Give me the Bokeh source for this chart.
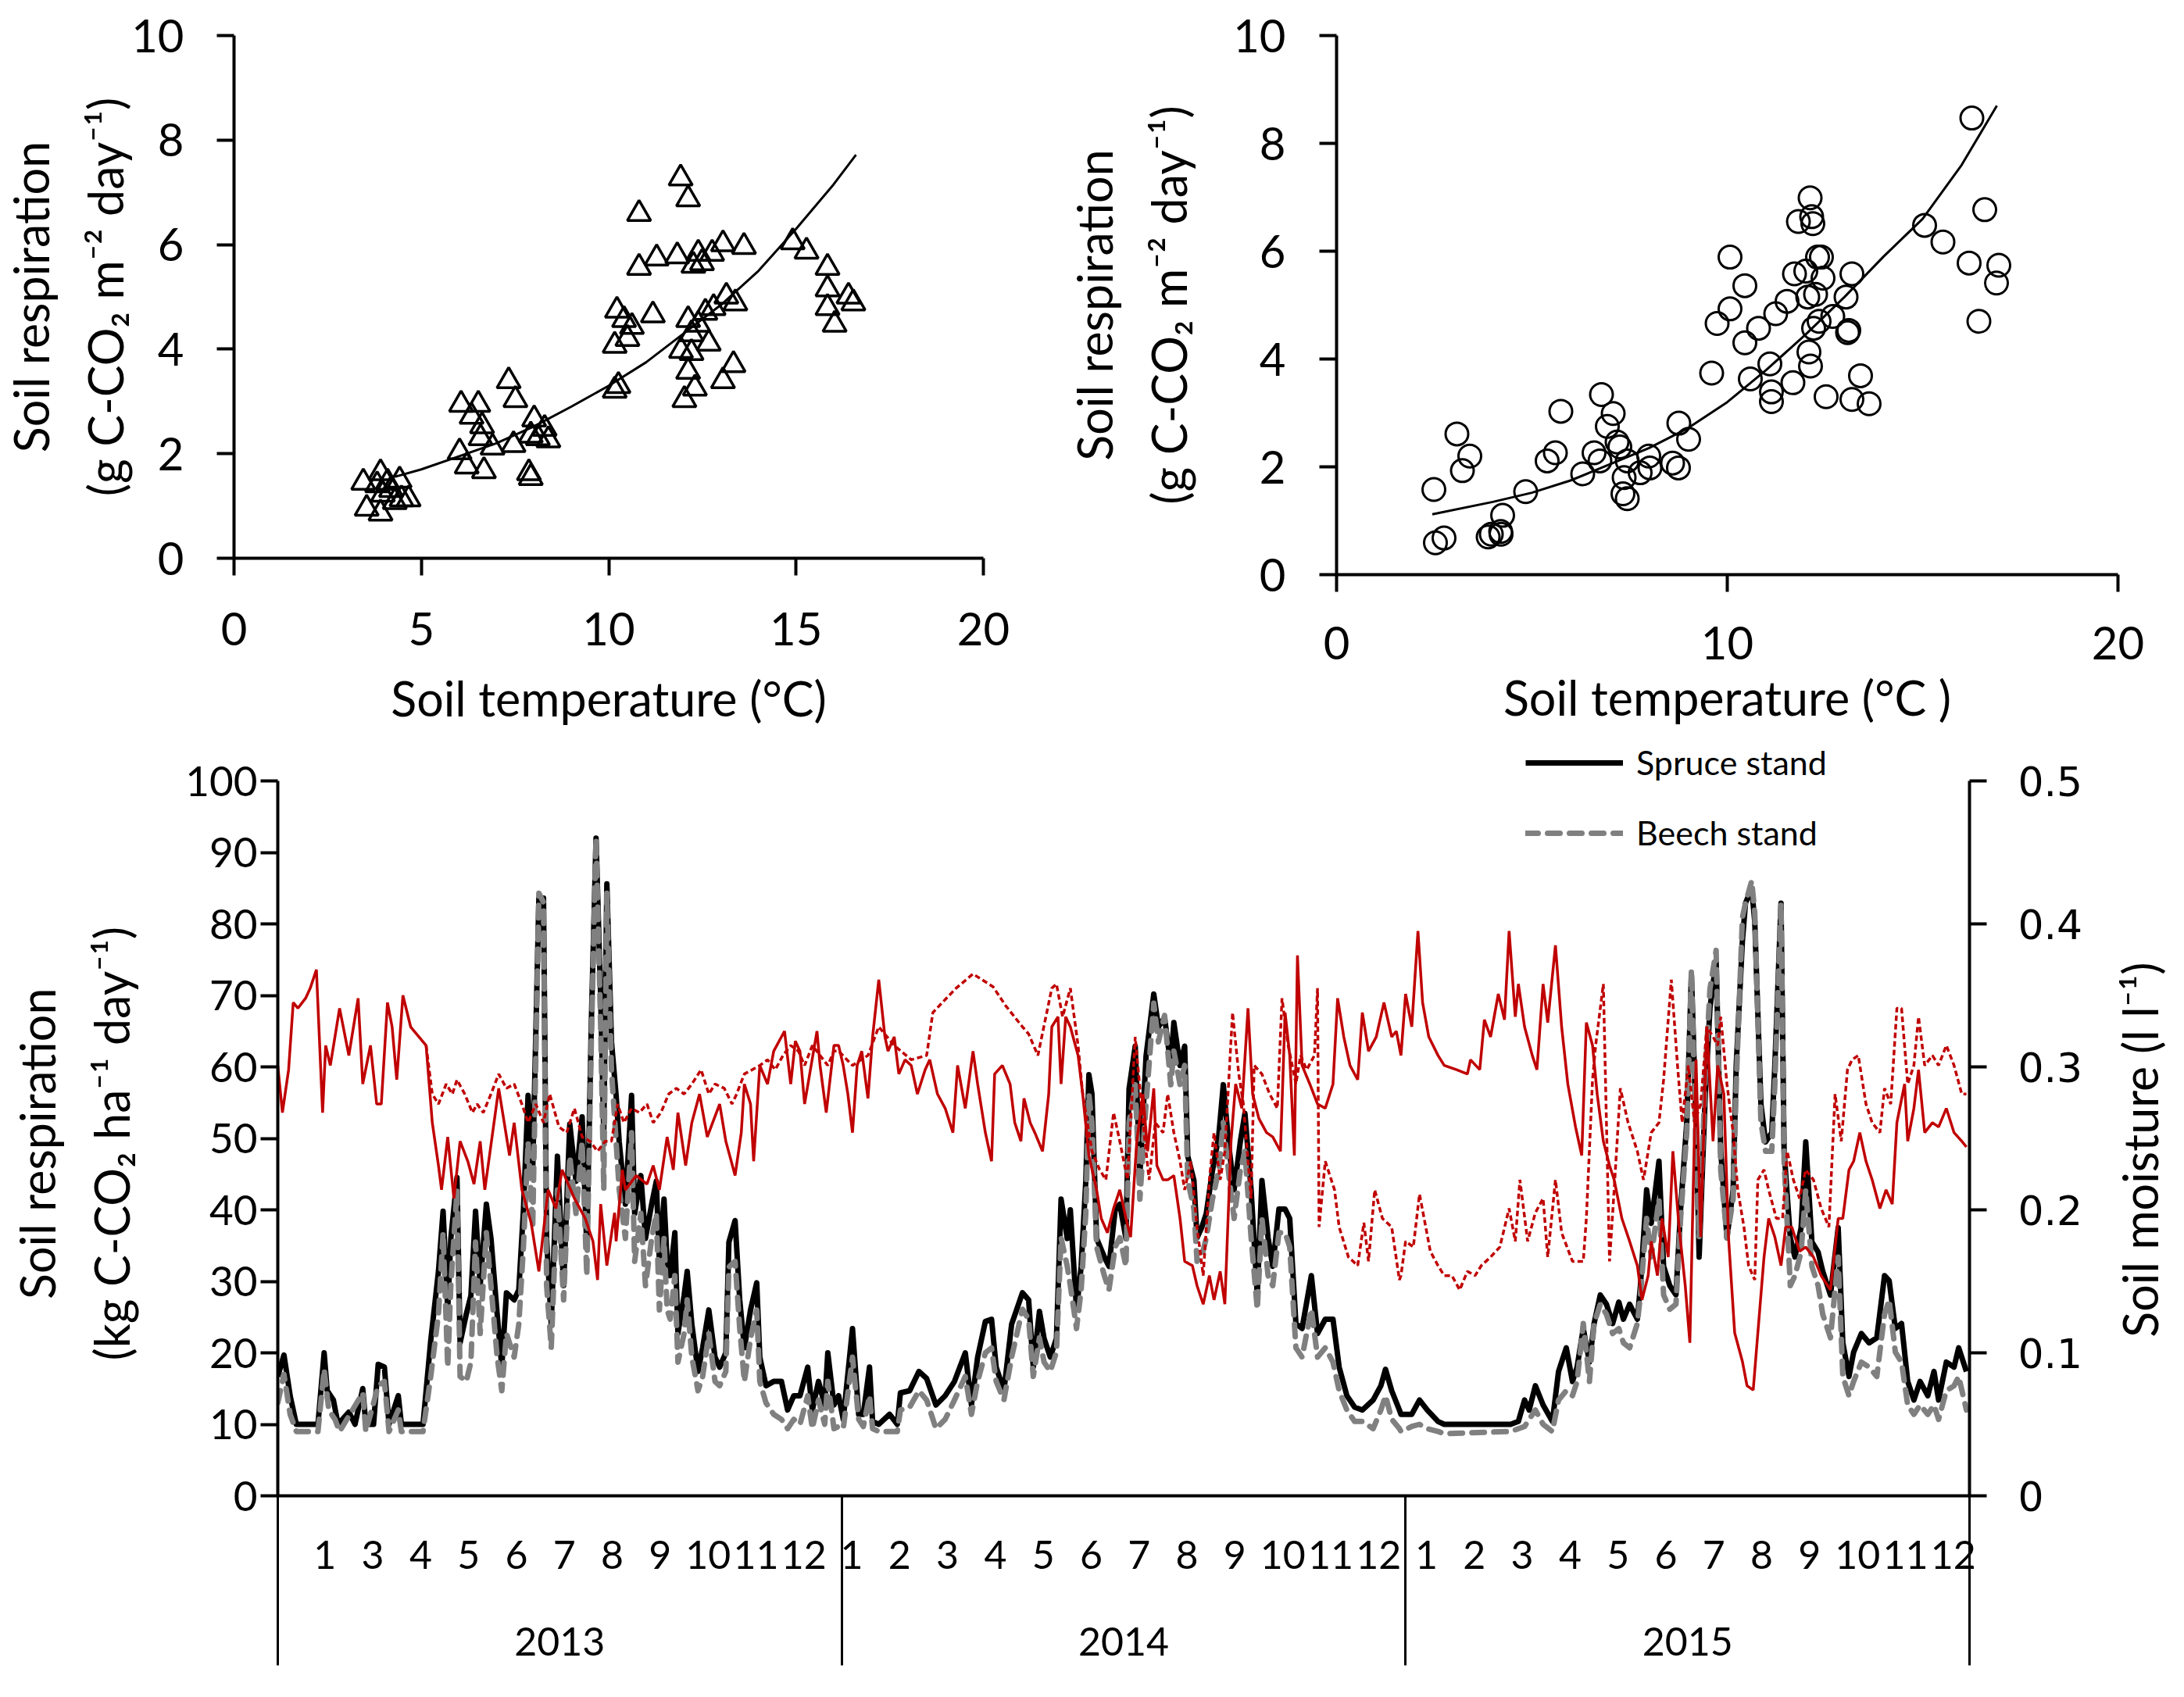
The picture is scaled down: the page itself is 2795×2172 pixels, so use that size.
import math
from bokeh.plotting import figure
from bokeh.layouts import column, row
from bokeh.models import Range1d, LinearAxis, FixedTicker, Legend, LegendItem
from bokeh.embed import file_html
from bokeh.resources import INLINE

FONT = "Lato"
RED = "#C00000"
NBSP = "\u00a0"

# ---------------- top left: spruce stand (soil temperature, soil respiration) ----------------
spruce_points = [(3.45, 1.45), (3.54, 0.95), (3.91, 1.63), (3.91, 0.86), (3.97, 1.22), (4.19, 1.31),
                 (4.29, 1.08), (4.42, 1.49), (4.47, 1.13), (4.66, 1.13), (3.82, 1.40), (4.10, 1.45),
                 (6.02, 2.03), (6.06, 2.94), (6.21, 1.76), (6.34, 2.71), (6.52, 2.94), (6.58, 2.30),
                 (6.67, 1.67), (6.62, 2.53), (6.90, 2.12), (7.33, 3.39), (7.51, 3.03), (7.46, 2.17),
                 (7.87, 1.63), (7.92, 1.54), (8.01, 2.66), (8.11, 2.30), (8.29, 2.48), (7.92, 2.35),
                 (8.39, 2.26), (10.16, 4.07), (10.16, 3.21), (10.22, 4.74), (10.26, 3.30), (10.41, 4.56),
                 (10.50, 4.20), (10.62, 4.43), (10.81, 6.59), (10.81, 5.56), (11.28, 5.74), (11.18, 4.65),
                 (11.83, 5.78), (11.92, 7.27), (12.12, 6.87), (12.12, 4.56), (11.93, 3.97), (12.12, 3.57),
                 (12.02, 3.03), (12.30, 3.25), (12.21, 3.93), (12.21, 4.29), (12.26, 5.60), (12.39, 5.83),
                 (12.49, 5.65), (12.39, 4.47), (12.58, 4.70), (12.67, 4.11), (12.76, 5.83), (12.80, 4.79),
                 (13.05, 6.01), (13.05, 3.39), (13.14, 5.01), (13.33, 3.70), (13.38, 4.88), (13.61, 5.96),
                 (14.91, 6.05), (15.28, 5.87), (15.84, 5.56), (15.84, 5.15), (15.84, 4.79), (16.03, 4.47),
                 (16.40, 5.01), (16.53, 4.88)]
# trend line
spruce_fit = [(4.3, 1.56), (5, 1.70), (6, 1.95), (7, 2.20), (8, 2.52), (9, 2.90), (10, 3.30),
              (11, 3.75), (12, 4.30), (13, 4.85), (14, 5.50), (15, 6.30), (16, 7.15), (16.6, 7.72)]

# ---------------- top right: beech stand ----------------
beech_points = [(2.49, 1.58), (2.53, 0.59), (2.75, 0.68), (3.08, 2.61), (3.22, 1.93), (3.41, 2.20),
                (3.88, 0.70), (3.96, 0.75), (4.21, 0.75), (4.25, 1.10), (4.20, 0.80), (4.84, 1.54),
                (5.39, 2.11), (5.60, 2.26), (5.74, 3.03), (6.30, 1.87), (6.59, 2.26), (6.74, 2.11),
                (6.78, 3.34), (6.93, 2.75), (7.08, 2.99), (7.18, 2.46), (7.25, 2.37), (7.36, 1.80),
                (7.33, 1.50), (7.44, 1.41), (7.44, 2.11), (7.77, 1.89), (7.99, 2.20), (8.02, 1.98),
                (8.60, 2.07), (8.75, 1.98), (8.76, 2.81), (9.01, 2.51), (9.60, 3.74), (9.74, 4.66),
                (10.07, 4.93), (10.07, 5.89), (10.45, 5.36), (10.45, 4.30), (10.59, 3.63), (10.80, 4.57),
                (11.09, 3.91), (11.13, 3.39), (11.13, 3.21), (11.24, 4.84), (11.53, 5.07), (11.68, 3.56),
                (11.72, 5.58), (11.82, 6.55), (12.01, 5.63), (12.06, 5.15), (12.09, 4.13), (12.13, 3.87),
                (12.12, 6.99), (12.16, 6.64), (12.19, 6.51), (12.21, 4.57), (12.26, 5.20), (12.31, 5.89),
                (12.35, 4.70), (12.41, 5.89), (12.45, 5.50), (12.53, 3.30), (12.70, 4.79), (13.04, 5.15),
                (13.08, 4.49), (13.11, 4.53), (13.19, 5.58), (13.19, 3.25), (13.41, 3.69), (13.63, 3.17),
                (15.05, 6.48), (15.52, 6.17), (16.19, 5.78), (16.26, 8.47), (16.44, 4.70), (16.59, 6.77),
                (16.89, 5.41), (16.95, 5.74)]
beech_fit = [(2.45, 1.12), (4, 1.35), (5, 1.52), (6, 1.75), (7, 2.05), (8, 2.35), (9, 2.72), (10, 3.20),
             (11, 3.80), (12, 4.45), (13, 5.15), (14, 5.90), (15, 6.60), (16, 7.60), (16.9, 8.70)]

# ---------------- bottom: daily series, day 0 = 1 Jan 2013 ----------------
# soil respiration, kg C-CO2 ha-1 day-1
spruce_resp_2013 = [(0, 16.7), (4, 19.7), (8, 14), (12, 10), (26, 10), (30, 20), (32, 14.7), (36, 13.4),
                    (39, 10), (46, 11.7), (50, 10), (55, 15), (57, 10), (62, 10), (65, 18.4), (69, 18),
                    (72, 10), (78, 14), (80, 10), (94, 10), (99, 21.7), (104, 31.4), (107, 39.8), (110, 26),
                    (112, 36), (116, 44.5), (118, 21.4), (122, 25.4), (125, 28), (128, 39.8), (131, 29.4),
                    (135, 40.8), (138, 36), (142, 25.4), (145, 18), (148, 28.4), (153, 27.4), (156, 28.8),
                    (159, 40), (162, 56), (165, 45.5), (169, 83.6), (172, 83.6), (174, 36), (177, 24),
                    (181, 47.5), (185, 29.4), (189, 52), (193, 44), (197, 53), (200, 34.8), (203, 66.6),
                    (206, 92), (209, 69.6), (211, 50.8), (213, 85.6), (216, 63.5), (219, 56), (221, 49.5),
                    (225, 40.8), (229, 56), (231, 39.5), (235, 44.8), (238, 36), (242, 40.8), (245, 44),
                    (247, 32.8), (250, 41.5), (252, 32.8), (254, 30.8), (257, 36.8), (259, 22.7), (263, 28),
                    (265, 31.4), (268, 24), (272, 17.4), (275, 20.7), (279, 26), (283, 19.4), (286, 18),
                    (290, 20), (292, 35.5), (296, 38.5), (299, 27.4), (302, 20.7), (306, 26), (310, 29.8),
                    (312, 19.4), (316, 15.4), (321, 16), (326, 16), (330, 12), (334, 14), (338, 14),
                    (343, 18), (346, 12), (350, 16), (354, 12.7), (356, 20), (360, 12.7)]
spruce_resp_2014 = [(363, 14), (366, 10.7), (372, 23.4), (376, 11.4), (379, 11.4), (383, 18), (385, 10.4),
                    (389, 10), (396, 11.4), (401, 10), (403, 14.4), (409, 14.7), (415, 17.4), (420, 16.4),
                    (426, 12.7), (432, 14), (438, 16), (445, 20), (449, 12.7), (453, 19.4), (458, 24.4),
                    (462, 24.7), (465, 18), (470, 14.7), (475, 24), (482, 28.4), (486, 27.4), (489, 18),
                    (493, 25.8), (496, 22), (500, 19.4), (504, 22), (507, 41.5), (511, 36), (513, 40),
                    (517, 26), (520, 32.1), (523, 44), (525, 58.9), (527, 56.2), (530, 36), (535, 33.4),
                    (538, 32.1), (542, 40), (545, 40.8), (549, 36), (551, 56.9), (555, 62.9), (558, 44.8),
                    (562, 61.5), (567, 70.2), (570, 65.6), (574, 66.9), (578, 60.2), (580, 66.2), (584, 60.2),
                    (587, 62.9), (589, 47.5), (593, 44.1), (595, 36.1), (598, 37.5), (601, 39.5), (605, 45.5),
                    (609, 50.2), (612, 57.5), (616, 48.2), (619, 42.8), (623, 49.5), (626, 53.5), (630, 42.8),
                    (634, 28.1), (637, 44.1), (641, 36.1), (644, 32.1), (648, 40.1), (652, 40.1), (655, 38.8),
                    (659, 24.1), (663, 23.4), (669, 30.8), (673, 22.7), (678, 24.7), (683, 24.7), (687, 18),
                    (692, 14), (697, 12.4), (702, 12), (709, 13.4), (714, 15.4), (717, 17.7), (721, 14.7),
                    (726, 12)]
spruce_resp_2015 = [(727, 11.4), (734, 11.4), (739, 13.4), (744, 12), (751, 10.4), (755, 10), (798, 10),
                    (803, 10.4), (807, 13.4), (810, 12), (814, 15.4), (819, 12.7), (825, 10.4), (829, 17.4),
                    (834, 20.7), (838, 16), (841, 18), (845, 23.4), (849, 18.7), (852, 24.1), (856, 28.1),
                    (860, 26.8), (864, 24.1), (868, 27.1), (871, 24.7), (875, 26.8), (880, 24.7), (882, 29.4),
                    (886, 42.8), (889, 38.1), (894, 46.8), (897, 32.1), (901, 29.4), (905, 28.1), (908, 40.1),
                    (912, 52.2), (915, 72.9), (918, 52.2), (920, 33.4), (924, 56.2), (927, 68.2), (931, 74.9),
                    (934, 48.2), (938, 36.1), (942, 42.8), (944, 60.2), (948, 77.6), (950, 82.9), (954, 85),
                    (956, 80.3), (960, 54.8), (963, 49.5), (967, 50.8), (969, 60.2), (973, 82.9), (975, 48.2),
                    (979, 36.1), (982, 33.4), (986, 37.5), (989, 49.5), (993, 35.5), (997, 34.1), (1000, 31.4),
                    (1005, 28.1), (1010, 37.5), (1013, 21.4), (1017, 16.7), (1020, 20.1), (1025, 22.7),
                    (1030, 21.4), (1035, 22.1), (1040, 30.8), (1043, 30.1), (1047, 23.4), (1051, 24.1),
                    (1055, 16), (1059, 13.4), (1063, 16), (1068, 14), (1072, 17.4), (1075, 13.4), (1080, 18.7),
                    (1085, 18), (1088, 20.7), (1093, 17.4)]

beech_resp_2013 = [(0, 13), (4, 17), (8, 11.4), (12, 9), (26, 9), (30, 17.7), (33, 12), (37, 10.7), (40, 9),
                   (55, 14.4), (57, 9), (65, 15.4), (69, 16), (72, 9), (78, 12), (80, 9), (94, 9), (99, 16.7),
                   (104, 25.4), (107, 36.8), (110, 18), (112, 29.4), (116, 42.8), (118, 16.7), (122, 16),
                   (125, 18.7), (128, 35.5), (131, 22.7), (135, 36.8), (138, 29.4), (142, 19.4), (145, 14.7),
                   (148, 22.7), (153, 19.4), (156, 24), (159, 34.8), (162, 49.5), (165, 37.5), (169, 84.3),
                   (172, 83), (174, 29.4), (177, 20.7), (181, 42.8), (185, 27.4), (189, 47.5), (193, 39.5),
                   (197, 49.5), (200, 30.8), (203, 64), (206, 92), (209, 65.5), (211, 42.8), (213, 84.3),
                   (216, 59.5), (219, 49.5), (221, 42.8), (225, 36), (229, 50.8), (231, 32.8), (235, 39.5),
                   (238, 29.4), (242, 36), (245, 39.5), (247, 26), (250, 36), (252, 26), (254, 24.7),
                   (257, 30.8), (259, 18.7), (263, 22.7), (265, 27.4), (268, 19.4), (272, 14.7), (275, 16.7),
                   (279, 22.7), (283, 16), (286, 15.4), (290, 17.4), (292, 32), (296, 32.8), (299, 23.4),
                   (302, 16), (306, 22), (310, 26), (312, 16), (316, 13), (321, 11.4), (326, 10.7), (330, 9.4),
                   (334, 10.7), (338, 10), (343, 14), (346, 9.4), (350, 13.4), (354, 10), (356, 16), (360, 9.4)]
beech_resp_2014 = [(363, 9.7), (366, 9.4), (372, 19.4), (376, 10.7), (379, 9.7), (383, 14), (385, 9.4),
                   (389, 9), (401, 9), (403, 12), (409, 12.4), (415, 14.7), (420, 13.4), (426, 9.4), (432, 10.7),
                   (438, 13.4), (445, 16.7), (449, 11.4), (453, 16), (458, 20), (462, 20.7), (465, 16),
                   (470, 13.4), (475, 19.4), (482, 26.1), (486, 24.7), (489, 16.7), (493, 22.1), (496, 18.7),
                   (500, 17.4), (504, 20.1), (507, 36.1), (511, 32.1), (513, 29.4), (517, 23.4), (520, 28.8),
                   (523, 39.5), (525, 56.2), (527, 52.2), (530, 34.8), (535, 30.8), (538, 28.8), (542, 34.8),
                   (545, 36.1), (549, 32.1), (551, 52.2), (555, 57.5), (558, 41.5), (562, 54.8), (567, 68.9),
                   (570, 63.5), (574, 67.2), (578, 57.5), (580, 62.2), (584, 57.5), (587, 60.2), (589, 44.1),
                   (593, 40.1), (595, 32.8), (598, 33.4), (601, 36.1), (605, 41.5), (609, 45.5), (612, 52.2),
                   (616, 44.1), (619, 38.8), (623, 45.5), (626, 48.2), (630, 36.1), (634, 26.1), (637, 38.8),
                   (641, 30.8), (644, 29.4), (648, 36.8), (652, 36.8), (655, 34.8), (659, 20.7), (663, 19.4),
                   (669, 26.1), (673, 19.4), (678, 20.7), (683, 18.7), (687, 14.7), (692, 12), (697, 10.4),
                   (702, 10.4), (709, 9.4), (714, 12), (717, 14), (721, 10.7), (726, 9.4)]
beech_resp_2015 = [(727, 9), (734, 9.7), (739, 10), (744, 9.4), (751, 9), (755, 8.7), (798, 9), (807, 9.7),
                   (810, 10.7), (814, 12), (819, 10), (825, 9), (829, 13.4), (834, 14.7), (838, 14), (841, 16),
                   (845, 24.1), (849, 16), (852, 24.1), (856, 26.8), (860, 25.4), (864, 22.7), (868, 23.4),
                   (871, 21.4), (875, 20.7), (880, 24.1), (882, 28.1), (886, 38.8), (889, 33.4), (894, 41.5),
                   (897, 28.1), (901, 26.1), (905, 26.8), (908, 38.8), (912, 50.8), (915, 73.6), (918, 48.2),
                   (920, 36.1), (924, 58.9), (927, 70.9), (931, 76.3), (934, 45.5), (938, 36.1), (942, 41.5),
                   (944, 57.5), (948, 80.9), (950, 82.9), (954, 86), (956, 81.6), (960, 52.2), (963, 48.2),
                   (967, 48.2), (969, 57.5), (973, 82.9), (975, 46.8), (979, 29.4), (982, 30.8), (986, 34.1),
                   (989, 42.8), (993, 32.1), (997, 29.4), (1000, 25.4), (1005, 22.1), (1010, 33.4),
                   (1013, 16.7), (1017, 14), (1020, 16), (1025, 18.7), (1030, 18), (1035, 16.7), (1040, 25.4),
                   (1043, 27.4), (1047, 20.1), (1051, 18.7), (1055, 12.7), (1059, 11.4), (1063, 12.7),
                   (1068, 11.4), (1072, 12.7), (1075, 10.7), (1080, 14.7), (1085, 15.4), (1088, 16.7),
                   (1093, 12)]

# soil moisture, l l-1
spruce_moist_2013 = [(0, .301), (3, .268), (7, .298), (10, .345), (13, .341), (18, .348), (21, .355),
                     (25, .368), (29, .268), (31, .315), (34, .301), (40, .341), (46, .308), (52, .348),
                     (55, .288), (60, .315), (64, .274), (67, .274), (71, .345), (74, .328), (77, .291),
                     (81, .350), (86, .328), (96, .315), (100, .261), (104, .231), (106, .214), (110, .251),
                     (114, .208), (118, .248), (123, .234), (127, .218), (131, .248), (134, .214), (143, .285),
                     (150, .238), (153, .261), (158, .214), (164, .191), (169, .157), (175, .214), (180, .201),
                     (184, .228), (192, .208), (199, .194), (204, .178), (207, .151), (209, .204), (213, .161),
                     (218, .198), (219, .178), (223, .228), (225, .214), (232, .224), (239, .218), (243, .231),
                     (247, .214), (252, .251), (256, .228), (259, .268), (264, .231), (268, .261), (273, .281),
                     (278, .251), (286, .274), (290, .248), (296, .224), (300, .254), (302, .288), (306, .274),
                     (308, .234), (312, .301), (317, .288), (321, .311), (328, .325), (332, .288), (335, .318),
                     (338, .311), (341, .274), (349, .325), (351, .301), (355, .268), (360, .315)]
spruce_moist_2014 = [(363, .315), (366, .301), (369, .281), (372, .254), (375, .301), (378, .311), (382, .278),
                     (385, .321), (389, .361), (393, .321), (395, .311), (399, .321), (402, .295), (406, .305),
                     (410, .301), (414, .281), (419, .298), (422, .305), (427, .281), (432, .271), (437, .254),
                     (440, .301), (445, .271), (450, .311), (453, .288), (458, .254), (462, .234), (464, .295),
                     (469, .301), (474, .288), (477, .261), (481, .248), (483, .278), (487, .261), (490, .254),
                     (495, .241), (499, .281), (501, .328), (505, .335), (507, .288), (510, .335), (513, .328),
                     (518, .308), (521, .281), (525, .238), (530, .214), (533, .194), (537, .184), (541, .201),
                     (545, .214), (549, .194), (552, .181), (556, .248), (560, .281), (563, .241), (567, .285),
                     (569, .231), (573, .221), (576, .221), (580, .224), (584, .194), (587, .164), (592, .161),
                     (595, .147), (599, .134), (603, .154), (606, .137), (610, .157), (613, .134), (617, .248),
                     (620, .288), (624, .271), (628, .341), (631, .281), (635, .264), (640, .254), (644, .251),
                     (649, .241), (652, .338), (655, .308), (658, .238), (660, .378), (663, .301), (668, .288),
                     (673, .274), (678, .271), (683, .288), (686, .348), (690, .321), (694, .301), (699, .291),
                     (702, .338), (706, .311), (711, .321), (716, .345), (721, .321), (724, .325)]
spruce_moist_2015 = [(727, .308), (730, .351), (734, .328), (738, .395), (741, .345), (745, .321), (751, .308),
                     (755, .301), (763, .298), (770, .295), (772, .305), (778, .298), (781, .333), (785, .321),
                     (790, .351), (794, .333), (797, .395), (801, .335), (803, .358), (807, .328), (812, .308),
                     (815, .298), (819, .358), (822, .331), (827, .385), (831, .328), (835, .288), (840, .258),
                     (844, .238), (847, .331), (851, .315), (854, .281), (858, .248), (862, .231), (865, .221),
                     (870, .194), (875, .178), (880, .161), (883, .137), (887, .154), (889, .178), (893, .154),
                     (896, .194), (900, .167), (903, .241), (907, .188), (911, .147), (914, .107), (918, .305),
                     (921, .181), (925, .328), (929, .248), (932, .301), (936, .281), (939, .181), (943, .114),
                     (948, .094), (951, .077), (955, .074), (958, .114), (962, .167), (965, .194), (969, .181),
                     (973, .161), (976, .188), (980, .188), (985, .171), (989, .174), (994, .167), (999, .154),
                     (1005, .144), (1010, .194), (1013, .194), (1017, .228), (1020, .234), (1024, .254),
                     (1028, .234), (1032, .221), (1037, .201), (1041, .214), (1045, .204), (1048, .261),
                     (1053, .288), (1055, .248), (1059, .271), (1062, .298), (1066, .254), (1071, .261),
                     (1075, .258), (1080, .271), (1085, .254), (1090, .248), (1093, .244)]

beech_moist_2013 = [(96, .315), (100, .281), (104, .274), (109, .288), (113, .281), (116, .291), (121, .281),
                    (126, .268), (129, .274), (133, .268), (138, .281), (143, .295), (148, .285), (153, .288),
                    (158, .274), (162, .261), (167, .274), (172, .261), (176, .281), (182, .258), (187, .254),
                    (192, .271), (197, .251), (202, .248), (207, .241), (212, .248), (216, .248), (220, .274),
                    (224, .261), (229, .271), (234, .268), (239, .274), (243, .261), (248, .268), (253, .281),
                    (258, .285), (263, .281), (268, .288), (274, .298), (279, .281), (283, .288), (289, .285),
                    (294, .274), (297, .281), (302, .295), (307, .298), (312, .301), (317, .305), (322, .298),
                    (327, .308), (332, .315), (337, .311), (341, .301), (346, .315), (351, .308), (356, .301),
                    (360, .311)]
beech_moist_2014 = [(363, .311), (372, .301), (382, .308), (389, .328), (399, .315), (410, .305), (420, .308),
                    (424, .338), (439, .355), (450, .365), (463, .356), (471, .343), (482, .328), (486, .323),
                    (492, .308), (501, .355), (504, .358), (508, .335), (513, .355), (518, .315), (521, .281),
                    (527, .241), (532, .228), (536, .221), (541, .268), (545, .248), (550, .221), (555, .321),
                    (560, .261), (564, .221), (568, .261), (573, .254), (576, .281), (580, .254), (584, .234),
                    (587, .214), (591, .234), (595, .188), (599, .154), (603, .221), (606, .254), (610, .221),
                    (613, .241), (618, .338), (622, .295), (625, .274), (630, .208), (632, .301), (637, .295),
                    (642, .281), (647, .271), (650, .348), (654, .315), (659, .288), (662, .308), (666, .298),
                    (671, .308), (673, .355), (674, .188), (678, .234), (684, .214), (687, .188), (693, .167),
                    (699, .161), (703, .191), (706, .164), (710, .214), (715, .194), (721, .188), (726, .151)]
beech_moist_2015 = [(727, .154), (730, .178), (735, .174), (739, .211), (742, .194), (746, .171), (751, .161),
                    (755, .154), (760, .154), (765, .144), (770, .157), (775, .154), (779, .161), (785, .167),
                    (791, .174), (797, .201), (801, .178), (804, .221), (809, .178), (814, .198), (819, .208),
                    (822, .167), (827, .221), (831, .184), (838, .164), (845, .164), (847, .194), (851, .291),
                    (853, .315), (858, .358), (862, .164), (865, .214), (869, .285), (874, .261), (880, .241),
                    (884, .221), (889, .254), (894, .261), (897, .291), (902, .361), (906, .301), (909, .261),
                    (913, .301), (917, .261), (921, .274), (925, .328), (929, .321), (932, .315), (934, .335),
                    (938, .288), (942, .254), (945, .214), (949, .188), (952, .161), (956, .151), (958, .221),
                    (962, .228), (965, .214), (970, .194), (974, .194), (977, .241), (981, .221), (985, .208),
                    (989, .228), (994, .221), (999, .201), (1004, .188), (1008, .281), (1012, .248),
                    (1016, .298), (1019, .305), (1023, .308), (1028, .274), (1032, .261), (1037, .254),
                    (1040, .285), (1044, .274), (1048, .341), (1051, .341), (1055, .288), (1059, .301),
                    (1062, .335), (1066, .301), (1071, .308), (1075, .301), (1080, .315), (1085, .301),
                    (1090, .281), (1093, .281)]

# month labels of the category axis, one every 31 days
month_labels = ["1", "3", "4", "5", "6", "7", "8", "9", "10", "11", "12",
                "1", "2", "3", "4", "5", "6", "7", "8", "9", "10", "11", "12",
                "1", "2", "3", "4", "5", "6", "7", "8", "9", "10", "11", "12"]
years = ["2013", "2014", "2015"]


def unzip(pairs):
    return [a for a, b in pairs], [b for a, b in pairs]


def style_axis(ax, size, font=FONT):
    ax.axis_line_width = 4
    ax.major_tick_line_width = 4
    ax.major_tick_in = 0
    ax.major_tick_out = 22
    ax.minor_tick_in = 0
    ax.minor_tick_out = 0
    ax.major_label_text_font = font
    ax.major_label_text_font_size = "%dpx" % size
    ax.major_label_text_color = "black"
    ax.axis_label_text_font = FONT
    ax.axis_label_text_font_size = "61px"
    ax.axis_label_text_font_style = "normal"
    ax.axis_label_text_color = "black"
    ax.axis_label_text_line_height = 1.3


#################
# top left plot
p1 = figure(frame_width=959, frame_height=669, x_range=Range1d(0, 20), y_range=Range1d(0, 10),
            output_backend="svg", toolbar_location=None,
            min_border_left=292, min_border_right=103, min_border_top=45, min_border_bottom=236)
p1.grid.visible = False
p1.outline_line_color = None
p1.xaxis.ticker = FixedTicker(ticks=[0, 5, 10, 15, 20])
p1.yaxis.ticker = FixedTicker(ticks=[0, 2, 4, 6, 8, 10])
p1.xaxis.axis_label = "Soil temperature (°C)"
p1.yaxis.axis_label = "Soil respiration\n(g C-CO₂ m⁻² day⁻¹)"
style_axis(p1.xaxis, 58)
style_axis(p1.yaxis, 58)
p1.xaxis.major_label_standoff = 47
p1.xaxis.axis_label_standoff = 28
p1.yaxis.major_label_standoff = 42
p1.yaxis.axis_label_standoff = -6

x, y = unzip(spruce_points)
p1.scatter(x, y, marker="triangle", size=30, fill_color=None, line_color="black", line_width=3.5)
x, y = unzip(spruce_fit)
p1.line(x, y, line_color="black", line_width=3)
#################

#################
# top right plot
p2 = figure(frame_width=1000, frame_height=690, x_range=Range1d(0, 20), y_range=Range1d(0, 10),
            output_backend="svg", toolbar_location=None,
            min_border_left=340, min_border_right=70, min_border_top=45, min_border_bottom=215)
p2.grid.visible = False
p2.outline_line_color = None
p2.xaxis.ticker = FixedTicker(ticks=[0, 10, 20])
p2.yaxis.ticker = FixedTicker(ticks=[0, 2, 4, 6, 8, 10])
p2.xaxis.axis_label = "Soil temperature (°C )"
p2.yaxis.axis_label = "Soil respiration\n(g C-CO₂ m⁻² day⁻¹)"
style_axis(p2.xaxis, 58)
style_axis(p2.yaxis, 58)
p2.xaxis.major_label_standoff = 44
p2.xaxis.axis_label_standoff = 9
p2.yaxis.major_label_standoff = 43
p2.yaxis.axis_label_standoff = 43

x, y = unzip(beech_points)
p2.scatter(x, y, marker="circle", size=29, fill_color=None, line_color="black", line_width=3)
x, y = unzip(beech_fit)
p2.line(x, y, line_color="black", line_width=3)
#################

#################
# bottom plot: daily soil respiration and soil moisture.
# The plot area reaches a little above 100 so that the legend's first row fits in it;
# the axes themselves stop at 100 and 0.5.
frame_h = 964
resp_top = 100 * frame_h / 915
p3 = figure(frame_width=2165, frame_height=frame_h, x_range=Range1d(0, 1095), y_range=Range1d(0, resp_top),
            output_backend="svg", toolbar_location=None,
            min_border_left=355, min_border_right=170, min_border_top=0, min_border_bottom=242)
p3.extra_y_ranges = {"moist": Range1d(0, resp_top / 200)}
p3.grid.visible = False
p3.outline_line_color = None

x, y = unzip(spruce_resp_2013 + spruce_resp_2014 + spruce_resp_2015)
r_spruce = p3.line(x, y, line_color="black", line_width=7, line_join="round")
x, y = unzip(beech_resp_2013 + beech_resp_2014 + beech_resp_2015)
r_beech = p3.line(x, y, line_color="#808080", line_width=7, line_dash="16 12",
                  line_cap="round", line_join="round")
x, y = unzip(spruce_moist_2013 + spruce_moist_2014 + spruce_moist_2015)
p3.line(x, y, line_color=RED, line_width=3.5, y_range_name="moist")
x, y = unzip(beech_moist_2013 + beech_moist_2014 + beech_moist_2015)
p3.line(x, y, line_color=RED, line_width=3.5, line_dash="7 4", y_range_name="moist")

# left axis; the title is centred on the plot area, trailing no-break spaces
# move it down to the middle of the 0-100 span
p3.yaxis.ticker = FixedTicker(ticks=list(range(0, 101, 10)))
p3.yaxis.bounds = (0, 100)
p3.yaxis.axis_label = "Soil respiration" + NBSP * 4 + "\n(kg C-CO₂ ha⁻¹ day⁻¹)" + NBSP * 4
style_axis(p3.yaxis, 53)
p3.yaxis.major_label_standoff = 4
p3.yaxis.axis_label_standoff = 55

# right axis (its title sits in the narrow figure next to this one)
moist_ticks = [0, 0.1, 0.2, 0.3, 0.4, 0.5]
right = LinearAxis(y_range_name="moist", ticker=FixedTicker(ticks=moist_ticks), bounds=(0, 0.5),
                   major_label_overrides={t: ("0" if t == 0 else str(t)) for t in moist_ticks})
style_axis(right, 52, font="DejaVu Sans")
right.major_label_standoff = 40
p3.add_layout(right, "right")

# month labels, with the year dividers drawn as long minor ticks
month_pos = [30.5 + 31 * k for k in range(len(month_labels))]
p3.xaxis.ticker = FixedTicker(ticks=month_pos, minor_ticks=[0.01, 365, 730, 1094.99])
p3.xaxis.major_label_overrides = {p: lab for p, lab in zip(month_pos, month_labels)}
style_axis(p3.xaxis, 50)
p3.xaxis.major_tick_out = 0
p3.xaxis.minor_tick_out = 217
p3.xaxis.minor_tick_line_width = 3
p3.xaxis.minor_tick_line_color = "black"
p3.xaxis.major_label_standoff = -160

year_pos = [182.5, 547.5, 912.5]
year_axis = LinearAxis(ticker=FixedTicker(ticks=year_pos),
                       major_label_overrides={p: lab for p, lab in zip(year_pos, years)})
style_axis(year_axis, 50)
year_axis.axis_line_color = None
year_axis.major_tick_out = 0
year_axis.major_label_standoff = 72
p3.add_layout(year_axis, "below")

legend = Legend(items=[LegendItem(label="Spruce stand", renderers=[r_spruce]),
                       LegendItem(label="Beech stand", renderers=[r_beech])],
                location=(1597, 823))
legend.label_text_font = FONT
legend.label_text_font_size = "43px"
legend.label_text_color = "black"
legend.glyph_width = 125
legend.glyph_height = 48
legend.label_height = 48
legend.label_standoff = 17
legend.spacing = 39
legend.padding = 0
legend.margin = 0
legend.border_line_color = None
legend.background_fill_alpha = 0
p3.add_layout(legend)
#################

#################
# narrow figure carrying the right axis title, reading upwards
pt = figure(frame_width=1, frame_height=frame_h, x_range=Range1d(0, 1), y_range=Range1d(0, 1),
            output_backend="svg", toolbar_location=None,
            min_border_left=88, min_border_right=0, min_border_top=0, min_border_bottom=242)
pt.grid.visible = False
pt.outline_line_color = None
pt.xaxis.visible = False
pt.yaxis.ticker = FixedTicker(ticks=[])
pt.yaxis.axis_line_color = None
pt.yaxis.major_tick_out = 0
pt.yaxis.minor_tick_out = 0
pt.yaxis.major_label_standoff = 0
pt.yaxis.axis_label = "Soil moisture (l l⁻¹)" + NBSP * 5
pt.yaxis.axis_label_standoff = 4
pt.yaxis.axis_label_text_font = FONT
pt.yaxis.axis_label_text_font_size = "61px"
pt.yaxis.axis_label_text_font_style = "normal"
pt.yaxis.axis_label_text_color = "black"
pt.yaxis.axis_label_text_line_height = 1.0
#################

page = column(row(p1, p2), row(p3, pt))
open("out.html", "w").write(file_html(page, INLINE, title="Soil respiration"))
